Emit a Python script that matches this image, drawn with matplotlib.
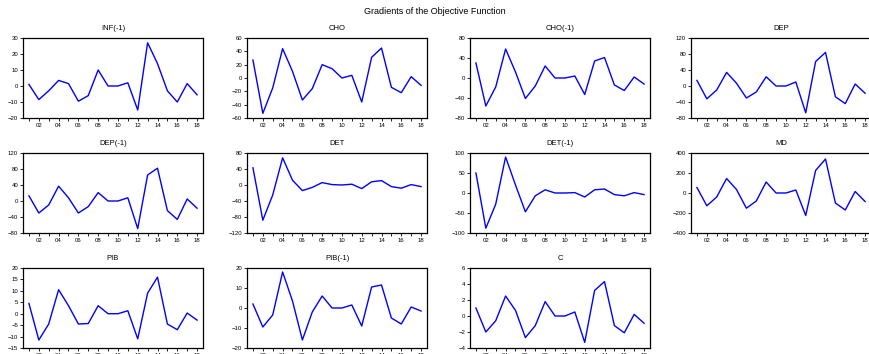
import numpy as np
import matplotlib
matplotlib.use('Agg')
import matplotlib.pyplot as plt
from matplotlib.ticker import MultipleLocator, FixedLocator

plt.rcParams['font.family'] = ['Liberation Sans', 'DejaVu Sans']

years = np.arange(2001, 2019)

names = ['INF(-1)', 'CHO', 'CHO(-1)', 'DEP',
         'DEP(-1)', 'DET', 'DET(-1)', 'MD',
         'PIB', 'PIB(-1)', 'C']

inf_1 = [1, -8.5, -3, 3.5, 1.5, -9.5, -6, 10, 0, 0, 2, -15, 27, 14, -3, -10, 1.5, -5.5]
cho = [27, -53, -15, 44, 10, -33, -16, 20, 14, 0, 4, -36, 31, 45, -14, -22, 2, -11]
cho_1 = [30, -56, -18, 58, 12, -41, -16, 24, 0, 0, 4, -33, 34, 41, -14, -25, 2, -12]
dep = [14, -32, -10, 34, 7, -30, -15, 23, 0, 0, 10, -67, 61, 84, -27, -44, 5, -18]
dep_1 = [13, -30, -10, 37, 8, -30, -14, 21, 0, 0, 8, -69, 65, 82, -24, -46, 5, -18]
det = [43, -88, -25, 68, 12, -14, -6, 6, 1, 0, 2, -9, 8, 11, -4, -8, 1, -4]
det_1 = [50, -88, -28, 90, 20, -47, -7, 8, 0, 0, 1, -10, 8, 10, -4, -7, 1, -4]
md = [55, -128, -40, 145, 35, -152, -80, 110, 0, 0, 30, -225, 225, 340, -100, -170, 15, -85]
pib = [4.5, -11.5, -4.5, 10.5, 3.5, -4.5, -4.3, 3.5, 0, 0, 1.3, -11, 9, 16, -4.5, -7, 0.3, -2.8]
pib_1 = [2, -9.5, -3.5, 18, 3.5, -16, -2, 6, 0, 0, 1.5, -9, 10.5, 11.5, -5, -8, 0.5, -1.5]
c = [1, -2, -0.6, 2.5, 0.7, -2.7, -1.2, 1.8, 0, 0, 0.5, -3.3, 3.2, 4.3, -1.2, -2.1, 0.2, -0.9]

series = [inf_1, cho, cho_1, dep, dep_1, det, det_1, md, pib, pib_1, c]

# y 轴范围和刻度间隔
ylims = [(-20, 30, 10), (-60, 60, 20), (-80, 80, 40), (-80, 120, 40),
         (-80, 120, 40), (-120, 80, 40), (-100, 100, 50), (-400, 400, 200),
         (-15, 20, 5), (-20, 20, 10), (-4, 6, 2)]

W, H = 869, 354
fig = plt.figure(figsize=(W / 100, H / 100), dpi=100)
fig.text(0.5, 1 - 12 / H, 'Gradients of the Objective Function',
         ha='center', va='center', fontsize=6.5)

col_left = [23, 247, 470, 691]
row_top = [38, 153, 268]
aw, ah = 180, 80

for k, (name, vals, yl) in enumerate(zip(names, series, ylims)):
    r, cc = divmod(k, 4)
    ax = fig.add_axes([col_left[cc] / W, 1 - (row_top[r] + ah) / H, aw / W, ah / H])
    ax.plot(years, vals, color='#0000ff', lw=1.0)
    ax.set_xlim(2000.4, 2018.6)
    ax.set_ylim(yl[0], yl[1])
    ax.yaxis.set_major_locator(MultipleLocator(yl[2]))
    ax.xaxis.set_major_locator(FixedLocator(np.arange(2002, 2019, 2)))
    ax.xaxis.set_minor_locator(FixedLocator(np.arange(2001, 2019, 2)))
    ax.set_xticklabels([f'{y % 100:02d}' for y in range(2002, 2019, 2)])
    ax.tick_params(axis='both', which='both', labelsize=4.3, length=2, width=0.6,
                   pad=1.5, direction='out')
    for s in ax.spines.values():
        s.set_linewidth(0.9)
    ax.set_title(name, fontsize=5.5, pad=6)

fig.savefig('out.png', dpi=100)
